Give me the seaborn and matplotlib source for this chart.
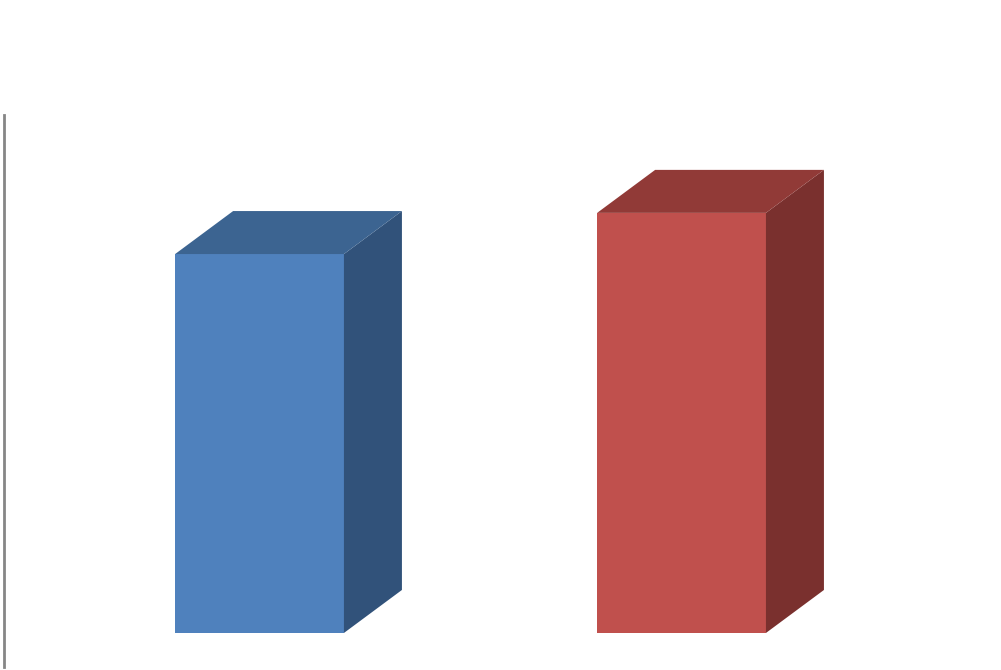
import matplotlib
matplotlib.use("Agg")
import matplotlib.pyplot as plt
import seaborn as sns
import pandas as pd
from matplotlib.patches import Polygon

categories = ["A", "B"]
values = [90.2, 100.0]

front_colors = ["#4F81BD", "#C0504D"]
side_colors = ["#31527A", "#7A302E"]
top_colors = ["#3C6491", "#913A37"]

df = pd.DataFrame({"cat": categories, "val": values})

sns.set_theme(style="white")
fig = plt.figure(figsize=(10.01, 6.70), dpi=100)
ax = fig.add_axes([4 / 1001, 3 / 670, 997 / 1001, 552 / 670])

sns.barplot(data=df, x="cat", y="val", hue="cat", palette=front_colors,
            width=0.4, legend=False, ax=ax, saturation=1, edgecolor="none")

ax.set_xlim(-0.6055, 1.757)
ax.set_ylim(-8.1, 123.3)

# depth offsets (in pixels) converted to data units
fig.canvas.draw()
inv = ax.transData.inverted()
p0 = inv.transform(ax.transData.transform((0, 0)))
p1 = inv.transform(ax.transData.transform((0, 0)) + [58, 43])
ddx, ddy = p1 - p0

for patch, sc, tc in zip(ax.patches, side_colors, top_colors):
    x0 = patch.get_x()
    x1 = x0 + patch.get_width()
    h = patch.get_height()
    side = Polygon([(x1, 0), (x1 + ddx, ddy), (x1 + ddx, h + ddy), (x1, h)],
                   closed=True, facecolor=sc, edgecolor="none")
    top = Polygon([(x0, h), (x0 + ddx, h + ddy), (x1 + ddx, h + ddy), (x1, h)],
                  closed=True, facecolor=tc, edgecolor="none")
    ax.add_patch(side)
    ax.add_patch(top)

for s in ["top", "right", "bottom"]:
    ax.spines[s].set_visible(False)
ax.spines["left"].set_color("#868686")
ax.spines["left"].set_linewidth(2)
ax.set_xticks([])
ax.set_yticks([])
ax.set_xlabel("")
ax.set_ylabel("")
ax.patch.set_alpha(0)

fig.savefig("out.png", dpi=100)
